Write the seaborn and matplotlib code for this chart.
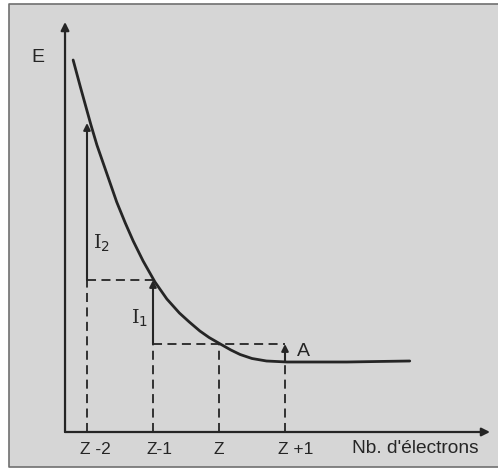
import seaborn as sns
import matplotlib.pyplot as plt
import matplotlib.patches as mpatches
import pandas as pd

# energy curve E(n) (x: Z+k units, y: arbitrary energy units)
curve_x = [-2.21, -2.10, -1.94, -1.85, -1.75, -1.65, -1.55, -1.42, -1.30, -1.15,
           -0.97, -0.79, -0.60, -0.45, -0.29, -0.15, 0.02, 0.18, 0.32, 0.50,
           0.72, 1.03, 1.50, 1.94, 2.40, 2.89]
curve_y = [37.2, 34.5, 30.7, 28.7, 26.8, 24.9, 23.0, 20.9, 19.1, 17.1,
           15.0, 13.3, 11.9, 11.0, 10.1, 9.45, 8.8, 8.2, 7.75, 7.35,
           7.1, 7.0, 7.0, 7.0, 7.05, 7.1]

level_names = ['Z -2', 'Z-1', 'Z', 'Z +1']
level_x = [-2, -1, 0, 1]
level_E = [30.9, 15.2, 8.8, 7.0]
jump_labels = ['I$_2$', 'I$_1$', 'A']

ink = '#252525'
bg = '#d6d6d6'
frame = '#707070'

sns.set_style('white')
plt.rcParams['font.family'] = ['Liberation Sans', 'DejaVu Sans']

fig = plt.figure(figsize=(4.98, 4.72), dpi=100)
fig.patch.set_facecolor('white')
ax = fig.add_axes([0, 0, 1, 1])
ax.set_facecolor('none')
ax.set_xlim(-219 / 66, (498 - 219) / 66)
ax.set_ylim(-4.0, 43.2)
ax.axis('off')
# scanned page frame (right side runs off the image)
left, top, bottom = 9 / 498, 1 - 4 / 472, 1 - 467 / 472
ax.add_patch(mpatches.Rectangle((left, bottom), 1 - left, top - bottom,
                                transform=ax.transAxes, facecolor=bg,
                                edgecolor='none', zorder=-5))
ax.plot([1, left, left, 1], [top, top, bottom, bottom], color=frame, lw=1.2,
        transform=ax.transAxes, zorder=-4)

df = pd.DataFrame({'n': curve_x, 'E': curve_y})
sns.lineplot(data=df, x='n', y='E', sort=False, estimator=None, color=ink,
             linewidth=2.0, ax=ax)

x0 = -2.333
arrow_kw = dict(arrowstyle='-|>', color=ink, lw=1.6, mutation_scale=12, shrinkA=0, shrinkB=0)
# axes with arrows
ax.annotate('', xy=(x0, 41.0), xytext=(x0, 0), arrowprops=arrow_kw)
ax.annotate('', xy=(4.106, 0), xytext=(x0, 0), arrowprops=arrow_kw)

dash = dict(color=ink, lw=1.3, linestyle=(0, (5, 3)))
# dashed verticals down to the axis
lows = [level_E[1], level_E[2], level_E[2], level_E[3]]
for xv, top_e in zip(level_x, lows):
    ax.plot([xv, xv], [0, top_e], **dash)
# dashed horizontals
ax.plot([level_x[0], level_x[1]], [level_E[1], level_E[1]], **dash)
ax.plot([level_x[1], level_x[3]], [level_E[2], level_E[2]], **dash)

# ionisation / affinity arrows
small_kw = dict(arrowstyle='-|>', color=ink, lw=1.5, mutation_scale=10, shrinkA=0, shrinkB=0)
ax.annotate('', xy=(level_x[0], level_E[0]), xytext=(level_x[0], level_E[1]), arrowprops=small_kw)
ax.annotate('', xy=(level_x[1], level_E[1]), xytext=(level_x[1], level_E[2]), arrowprops=small_kw)
ax.annotate('', xy=(level_x[3], level_E[2]), xytext=(level_x[3], level_E[3]), arrowprops=small_kw)

ax.text(-1.91, 18.9, jump_labels[0], fontsize=14, color=ink, ha='left', va='center',
        family='DejaVu Serif')
ax.text(-1.33, 11.4, jump_labels[1], fontsize=14, color=ink, ha='left', va='center',
        family='DejaVu Serif')
ax.text(1.18, 8.0, jump_labels[2], fontsize=14, color=ink, ha='left', va='center')
ax.text(-2.75, 37.5, 'E', fontsize=14, color=ink, ha='center', va='center')

for xv, name in zip(level_x, level_names):
    ha = 'center' if name == 'Z' else 'left'
    off = 0 if name == 'Z' else -0.10
    ax.text(xv + off, -1.7, name, fontsize=12.5, color=ink, ha=ha, va='center')
ax.text(3.93, -1.65, "Nb. d'électrons", fontsize=13.8, color=ink, ha='right', va='center')

fig.savefig('out.png', dpi=100, facecolor=fig.get_facecolor())
